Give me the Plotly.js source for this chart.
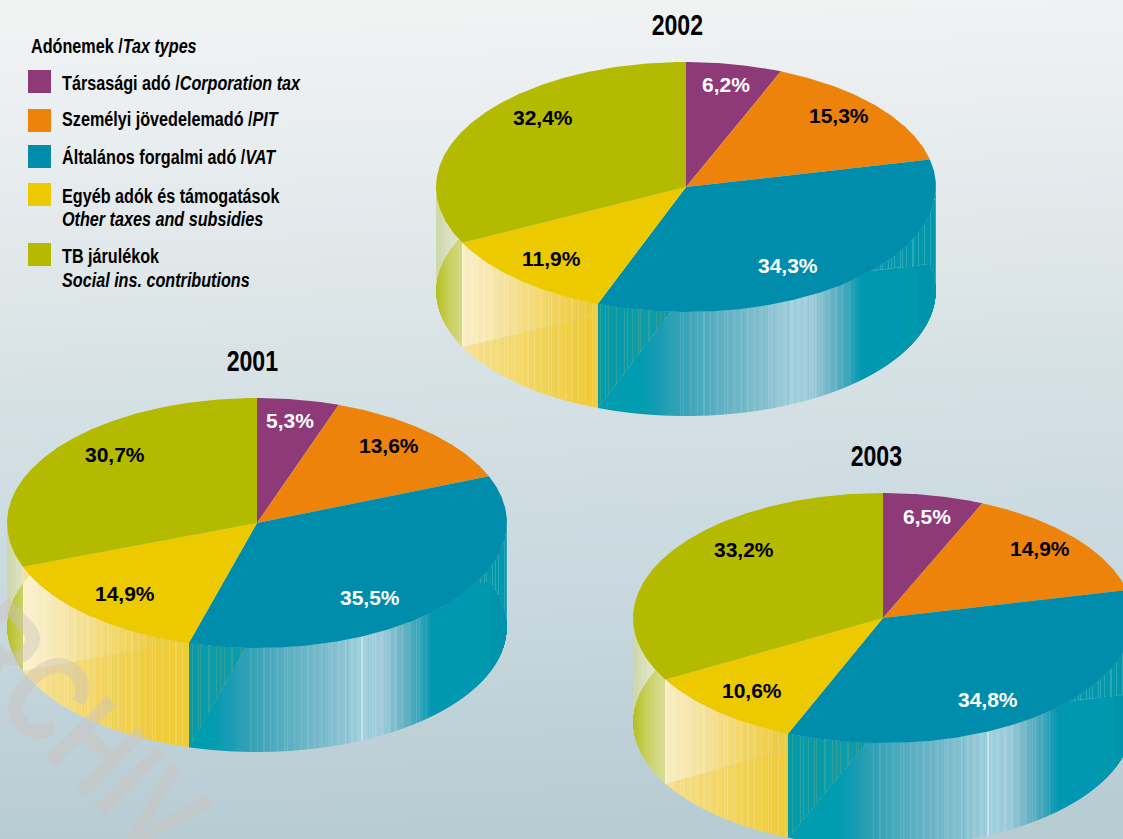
<!DOCTYPE html>
<html>
<head>
<meta charset="utf-8">
<script src="https://cdn.plot.ly/plotly-3.0.1.min.js"></script>
<style>
html,body{margin:0;padding:0;width:1123px;height:839px;overflow:hidden;
background:linear-gradient(178deg,#f2f4f3 0px,#eaeef1 130px,#dee6e8 300px,#d4e0e4 420px,#c9d9df 600px,#b8ccd3 839px);}
#chart{width:1123px;height:839px;}
</style>
</head>
<body>
<div id="chart"></div>
<script>
// ---- data ----
const categories = ["Társasági adó","Személyi jövedelemadó","Általános forgalmi adó","Egyéb adók és támogatások","TB járulékok"];
const years = ["2001","2002","2003"];
const values2001 = [5.3,13.6,35.5,14.9,30.7];
const values2002 = [6.2,15.3,34.3,11.9,32.4];
const values2003 = [6.5,14.9,34.8,10.6,33.2];
const seriesValues = [values2001,values2002,values2003];
const legendTitle = "<b>Adónemek /</b><b><i>Tax types</i></b>";
const legendLines = [
  ["<b>Társasági adó /</b><b><i>Corporation tax</i></b>"],
  ["<b>Személyi jövedelemadó /</b><b><i>PIT</i></b>"],
  ["<b>Általános forgalmi adó /</b><b><i>VAT</i></b>"],
  ["<b>Egyéb adók és támogatások</b>","<b><i>Other taxes and subsidies</i></b>"],
  ["<b>TB járulékok</b>","<b><i>Social ins. contributions</i></b>"]
];
const colors = ["#8e3a78","#ee830c","#008dab","#edc900","#b3ba00"];
const labelColors = ["#ffffff","#000000","#ffffff","#000000","#000000"];

// ---- layout constants ----
const RX = 250, RY = 125, DEPTH = 104;
const centers = [[257,523],[686,187],[883,618]];
const titlePos = [[252,360.5],[677,24.5],[876,455.5]];
const labelPos = [
  [[290,420],[389,445],[370,597],[125,593],[115,454]],
  [[726,84],[839,115],[788,265],[551,258],[543,117]],
  [[927,516],[1040,548],[988,699],[752,690],[744,549]]
];
const swatchY = [81.5,120.5,156.5,194.5,254.5];
const legendTextY = [[82.5],[118.5],[156.5],[195.5,218.5],[255.5,279.5]];
const NARROW_SCALE = 0.77;
const glintPies = [true,false,true];

// ---- wall shading: dx from pie centre -> colour ----
const ramps = {
  yellowUpper:[[-250,"#fbf2d0"],[-224,"#faefc8"],[-190,"#f6e5a8"],[-150,"#f3d973"],[-110,"#eece4a"],[-60,"#ebc92e"]],
  yellowLower:[[-250,"#f8e49c"],[-224,"#f7e090"],[-190,"#f5db7c"],[-150,"#f2d45e"],[-110,"#f0cd40"],[-60,"#eecb32"]],
  tealLower:[[-110,"#009ab1"],[-45,"#009ab1"],[-15,"#2b9fb4"],[30,"#5dafc2"],[76,"#84bfcf"],[105,"#a2cfdd"],[125,"#a0cddb"],[145,"#6eb4c6"],[165,"#2fa2b8"],[175,"#0098af"],[260,"#0095ad"]],
  tealUpperLeft:[[-110,"#009aae"],[-16,"#0a9cad"]],
  tealUpperRight:[[170,"#0096ad"],[260,"#0096ad"]],
  oliveLower:[[-250,"#b5be20"],[-240,"#c4cc50"],[-225,"#d3d985"],[-210,"#dfe3a8"],[-190,"#e5e8b8"]],
  oliveUpper:[[-250,"#cdd6a9"],[-235,"#dce3c4"],[-215,"#ebefe0"],[-190,"#f0f2e8"]]
};
const hex2 = h => [1,3,5].map(i=>parseInt(h.substr(i,2),16));
function ramp(stops,dx){
  if(dx<=stops[0][0]) return hex2(stops[0][1]);
  for(let i=1;i<stops.length;i++){
    if(dx<=stops[i][0]){
      const t=(dx-stops[i-1][0])/(stops[i][0]-stops[i-1][0]);
      const a=hex2(stops[i-1][1]),b=hex2(stops[i][1]);
      return a.map((v,k)=>v+(b[k]-v)*t);
    }
  }
  return hex2(stops[stops.length-1][1]);
}
const mix=(c,d,t)=>c.map((v,k)=>v+(d[k]-v)*t);
function band(x){ // fine vertical banding of the printed gradient
  const m=(x*7+(x>>2)*3)%11;
  return m<2?1:(m<4?-1:0);
}
function wallColor(wall,under,dx,x,glint){
  let c;
  if(wall===2){
    if(under===2){
      c=ramp(ramps.tealLower,dx);
      if(dx>-10&&dx<170){c=mix(c,[255,255,255],band(x)>0?0.10:0); if(band(x)<0)c=mix(c,[0,140,165],0.06);}
      if(glint&&Math.abs(dx-105)<0.6)c=mix(c,[255,255,255],0.4);
    }else if(dx<0){
      c=ramp(ramps.tealUpperLeft,dx);
      if(x%8===0||x%11===0)c=mix(c,[130,165,110],0.35);
    }else{
      c=ramp(ramps.tealUpperRight,dx);
      if(x%6===0||x%11===0)c=mix(c,[180,215,225],0.25);
    }
  }else if(wall===3){
    c=ramp(under===4?ramps.yellowUpper:ramps.yellowLower,dx);
    if(band(x)>0)c=mix(c,[255,255,255],0.15);
  }else{
    c=ramp(under===4?ramps.oliveLower:ramps.oliveUpper,dx);
  }
  const q=4;
  return c.map(v=>Math.min(255,Math.round(v/q)*q));
}

// ---- geometry from shares ----
function cumul(vals){
  const tot=vals.reduce((a,b)=>a+b,0);let s=0;
  return vals.map(v=>{const a=s/tot*360;s+=v;return [a,s/tot*360];});
}
function sliceAt(deg,cum){
  for(let i=0;i<cum.length;i++) if(deg>=cum[i][0]&&deg<cum[i][1]) return i;
  return cum.length-1;
}
const traces=[];
const buckets={};
function addSeg(col,x,y0,y1){
  const k=col.join(",");
  if(!buckets[k]) buckets[k]={x:[],y:[]};
  buckets[k].x.push(x+0.5,x+0.5,null);
  buckets[k].y.push(y0,y1,null);
}
seriesValues.forEach((vals,p)=>{
  const [cx,cy]=centers[p];
  const cum=cumul(vals);
  for(let x=Math.ceil(cx-RX);x<cx+RX;x++){
    const dx=x+0.5-cx;
    const s=Math.sqrt(Math.max(0,1-dx*dx/(RX*RX)));
    const yTop=cy+RY*s-0.4, yBot=cy+DEPTH+RY*s;
    const rimDeg=(Math.atan2(dx/RX,-s)*180/Math.PI+360)%360;
    const wall=sliceAt(rimDeg,cum);
    let start=yTop,cur=null;
    const bcy=cy+DEPTH;
    for(let y=yTop;y<yBot+1;y+=1){
      const yy=Math.min(y,yBot);
      const ny=(yy-bcy)/RY,nx=dx/RX;
      let under=-1;
      if(nx*nx+ny*ny<=1.0001){
        under=sliceAt((Math.atan2(nx,-ny)*180/Math.PI+360)%360,cum);
      }
      const key=wallColor(wall,under,dx,x,glintPies[p]).join(",");
      if(cur===null){cur=key;start=yy;}
      else if(key!==cur){addSeg(cur.split(",").map(Number),x,start,yy);cur=key;start=yy;}
    }
    addSeg(cur.split(",").map(Number),x,start,yBot);
  }
});
Object.keys(buckets).forEach(k=>{
  traces.push({type:"scatter",mode:"lines",x:buckets[k].x,y:buckets[k].y,
    line:{color:"rgb("+k+")",width:1.05,simplify:false},hoverinfo:"skip",showlegend:false});
});
seriesValues.forEach((vals,p)=>{
  const [cx,cy]=centers[p];
  cumul(vals).forEach((c,i)=>{
    const xs=[cx],ys=[cy];
    const n=Math.max(2,Math.ceil((c[1]-c[0])*2));
    for(let j=0;j<=n;j++){
      const a=(c[0]+(c[1]-c[0])*j/n)*Math.PI/180;
      xs.push(cx+RX*Math.sin(a));ys.push(cy-RY*Math.cos(a));
    }
    xs.push(cx);ys.push(cy);
    traces.push({type:"scatter",mode:"lines",x:xs,y:ys,fill:"toself",fillcolor:colors[i],
      line:{width:0,color:colors[i]},name:years[p]+" "+categories[i],hoverinfo:"skip",showlegend:false});
  });
});
// legend swatches
traces.push({type:"scatter",mode:"markers",x:colors.map(()=>39.5),y:swatchY,
  marker:{symbol:"square",size:23,color:colors,line:{width:0}},hoverinfo:"skip",showlegend:false});

// ---- text ----
const SANS='"Liberation Sans",Arial,sans-serif';
const ann=[];
const narrowIdx=[];
const txt=(text,x,y,size,color,xanchor,narrow)=>{
  if(narrow) narrowIdx.push([ann.length,xanchor||"center"]);
  ann.push({text,x,y,xref:"x",yref:"y",showarrow:false,
    xanchor:xanchor||"center",yanchor:"middle",font:{size,color,family:SANS}});
};
// watermark
narrowIdx.push([0,"center"]);
ann.push({text:"<b>ARCHIV</b>",x:55,y:704,xref:"x",yref:"y",showarrow:false,textangle:45,
  xanchor:"center",yanchor:"middle",font:{size:125,color:"rgba(205,195,190,0.45)",family:SANS}});
txt(legendTitle,29,45.5,21,"#000","left",true);
legendLines.forEach((ls,i)=>ls.forEach((l,j)=>txt(l,60,legendTextY[i][j],21,"#000","left",true)));
years.forEach((y,p)=>{
  txt("<b>"+y+"</b>",titlePos[p][0],titlePos[p][1],30,"#000","center",true);
  seriesValues[p].forEach((v,i)=>{
    txt("<b>"+v.toFixed(1).replace(".",",")+"%</b>",labelPos[p][i][0],labelPos[p][i][1],21,labelColors[i]);
  });
});

const layout={width:1123,height:839,margin:{l:0,r:0,t:0,b:0,pad:0},
  paper_bgcolor:"rgba(0,0,0,0)",plot_bgcolor:"rgba(0,0,0,0)",showlegend:false,
  xaxis:{range:[0,1123],visible:false,fixedrange:true},
  yaxis:{range:[839,0],visible:false,fixedrange:true},
  annotations:ann};
Plotly.newPlot("chart",traces,layout,{staticPlot:true,displayModeBar:false}).then(gd=>{
  // the installed sans has no condensed cut, so squeeze those texts horizontally
  narrowIdx.forEach(([i,anchor])=>{
    const t=gd.querySelector('.annotation[data-index="'+i+'"] text');
    if(!t) return;
    const b=t.getBBox();
    const px=anchor==="left"?b.x:b.x+b.width/2;
    const old=t.getAttribute("transform")||"";
    t.setAttribute("transform",old+" translate("+px+",0) scale("+NARROW_SCALE+",1) translate("+(-px)+",0)");
  });
});
</script>
</body>
</html>
